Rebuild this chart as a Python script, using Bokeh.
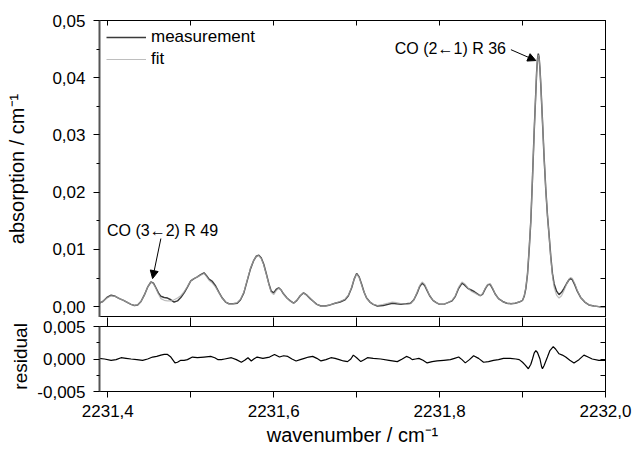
from bokeh.plotting import figure
from bokeh.layouts import column
from bokeh.models import (Range1d, FixedTicker, LinearAxis, CustomJSTickFormatter,
                          Label, Arrow, NormalHead)
from bokeh.embed import file_html
from bokeh.resources import INLINE

# ---------------- data ----------------
wavenumber = [
    2231.388, 2231.394, 2231.399, 2231.404, 2231.409, 2231.414, 2231.419, 2231.424, 2231.428, 2231.432,
    2231.436, 2231.440, 2231.444, 2231.448, 2231.452, 2231.455, 2231.458, 2231.461, 2231.464, 2231.468,
    2231.472, 2231.476, 2231.480, 2231.484, 2231.488, 2231.492, 2231.496, 2231.500, 2231.504, 2231.508,
    2231.512, 2231.516, 2231.519, 2231.522, 2231.526, 2231.530, 2231.534, 2231.538, 2231.542, 2231.546,
    2231.551, 2231.556, 2231.560, 2231.564, 2231.568, 2231.572, 2231.576, 2231.579, 2231.582, 2231.585,
    2231.588, 2231.591, 2231.594, 2231.597, 2231.600, 2231.603, 2231.606, 2231.609, 2231.612, 2231.616,
    2231.620, 2231.624, 2231.628, 2231.632, 2231.636, 2231.640, 2231.644, 2231.648, 2231.652, 2231.657,
    2231.662, 2231.668, 2231.674, 2231.680, 2231.686, 2231.690, 2231.694, 2231.697, 2231.700, 2231.703,
    2231.706, 2231.709, 2231.712, 2231.716, 2231.720, 2231.725, 2231.732, 2231.738, 2231.743, 2231.748,
    2231.754, 2231.760, 2231.765, 2231.769, 2231.773, 2231.776, 2231.779, 2231.782, 2231.785, 2231.788,
    2231.792, 2231.796, 2231.800, 2231.805, 2231.810, 2231.815, 2231.819, 2231.823, 2231.827, 2231.830,
    2231.834, 2231.838, 2231.842, 2231.846, 2231.849, 2231.852, 2231.855, 2231.858, 2231.861, 2231.864,
    2231.867, 2231.871, 2231.876, 2231.881, 2231.886, 2231.891, 2231.896, 2231.900, 2231.902, 2231.904,
    2231.906, 2231.908, 2231.910, 2231.912, 2231.914, 2231.916, 2231.917, 2231.918, 2231.919, 2231.920,
    2231.921, 2231.922, 2231.924, 2231.926, 2231.928, 2231.930, 2231.932, 2231.934, 2231.936, 2231.938,
    2231.941, 2231.944, 2231.947, 2231.950, 2231.953, 2231.956, 2231.958, 2231.960, 2231.963, 2231.966,
    2231.970, 2231.975, 2231.980, 2231.986, 2231.992, 2232.000]

measurement = [
    0.0005, 0.0009, 0.0016, 0.0020, 0.0018, 0.0014, 0.0011, 0.0007, 0.0004, 0.0002,
    0.0003, 0.0009, 0.0020, 0.0034, 0.0043, 0.0041, 0.0033, 0.0024, 0.0018, 0.0016,
    0.0015, 0.0012, 0.0008, 0.0010, 0.0016, 0.0024, 0.0034, 0.0045, 0.0049, 0.0052,
    0.0056, 0.0059, 0.0054, 0.0048, 0.0044, 0.0036, 0.0025, 0.0015, 0.0008, 0.0005,
    0.0005, 0.0006, 0.0012, 0.0024, 0.0045, 0.0066, 0.0081, 0.0088, 0.0090, 0.0085,
    0.0074, 0.0058, 0.0041, 0.0027, 0.0024, 0.0030, 0.0033, 0.0029, 0.0022, 0.0015,
    0.0010, 0.0006, 0.0011, 0.0019, 0.0024, 0.0020, 0.0014, 0.0009, 0.0004, 0.0001,
    0.0001, 0.0003, 0.0006, 0.0008, 0.0012, 0.0019, 0.0033, 0.0048, 0.0058, 0.0052,
    0.0039, 0.0025, 0.0015, 0.0008, 0.0004, 0.0001, 0.0002, 0.0004, 0.0006, 0.0005,
    0.0004, 0.0005, 0.0006, 0.0012, 0.0024, 0.0035, 0.0041, 0.0037, 0.0028, 0.0019,
    0.0011, 0.0007, 0.0004, 0.0004, 0.0007, 0.0010, 0.0018, 0.0032, 0.0041, 0.0038,
    0.0032, 0.0029, 0.0026, 0.0022, 0.0019, 0.0022, 0.0031, 0.0038, 0.0039, 0.0031,
    0.0022, 0.0014, 0.0009, 0.0006, 0.0005, 0.0006, 0.0008, 0.0011, 0.0018, 0.0032,
    0.0057, 0.0100, 0.0150, 0.0225, 0.0305, 0.0375, 0.0410, 0.0432, 0.0442, 0.0435,
    0.0415, 0.0388, 0.0325, 0.0260, 0.0205, 0.0160, 0.0125, 0.0088, 0.0058, 0.0040,
    0.0027, 0.0021, 0.0025, 0.0032, 0.0040, 0.0047, 0.0049, 0.0047, 0.0038, 0.0027,
    0.0016, 0.0008, 0.0003, 0.0001, 0.0000, 0.0000]

fit = [
    0.0005, 0.0009, 0.0015, 0.0019, 0.0018, 0.0014, 0.0011, 0.0007, 0.0004, 0.0002,
    0.0003, 0.0009, 0.0020, 0.0034, 0.0043, 0.0040, 0.0032, 0.0022, 0.0014, 0.0011,
    0.0010, 0.0010, 0.0012, 0.0015, 0.0019, 0.0026, 0.0035, 0.0045, 0.0049, 0.0052,
    0.0055, 0.0058, 0.0053, 0.0046, 0.0041, 0.0034, 0.0024, 0.0015, 0.0008, 0.0005,
    0.0005, 0.0007, 0.0013, 0.0025, 0.0046, 0.0067, 0.0081, 0.0088, 0.0089, 0.0084,
    0.0073, 0.0057, 0.0040, 0.0025, 0.0021, 0.0028, 0.0032, 0.0029, 0.0022, 0.0015,
    0.0010, 0.0006, 0.0011, 0.0019, 0.0024, 0.0020, 0.0014, 0.0009, 0.0004, 0.0001,
    0.0001, 0.0003, 0.0006, 0.0009, 0.0013, 0.0020, 0.0034, 0.0048, 0.0057, 0.0051,
    0.0038, 0.0025, 0.0015, 0.0008, 0.0004, 0.0002, 0.0004, 0.0006, 0.0008, 0.0007,
    0.0005, 0.0004, 0.0005, 0.0012, 0.0025, 0.0037, 0.0043, 0.0039, 0.0029, 0.0019,
    0.0011, 0.0007, 0.0004, 0.0004, 0.0007, 0.0011, 0.0019, 0.0034, 0.0043, 0.0040,
    0.0033, 0.0027, 0.0024, 0.0021, 0.0019, 0.0023, 0.0032, 0.0039, 0.0040, 0.0032,
    0.0022, 0.0014, 0.0009, 0.0006, 0.0005, 0.0006, 0.0008, 0.0011, 0.0019, 0.0033,
    0.0058, 0.0101, 0.0151, 0.0225, 0.0305, 0.0375, 0.0410, 0.0430, 0.0440, 0.0434,
    0.0415, 0.0388, 0.0325, 0.0260, 0.0205, 0.0160, 0.0124, 0.0086, 0.0055, 0.0034,
    0.0020, 0.0015, 0.0019, 0.0028, 0.0039, 0.0048, 0.0051, 0.0049, 0.0040, 0.0028,
    0.0016, 0.0008, 0.0003, 0.0001, 0.0000, 0.0000]

residual_x = [
    2231.388, 2231.396, 2231.404, 2231.410, 2231.416, 2231.422, 2231.428, 2231.435, 2231.442, 2231.448,
    2231.454, 2231.459, 2231.464, 2231.468, 2231.472, 2231.476, 2231.481, 2231.484, 2231.488, 2231.492,
    2231.496, 2231.502, 2231.508, 2231.516, 2231.524, 2231.529, 2231.533, 2231.537, 2231.541, 2231.549,
    2231.555, 2231.561, 2231.565, 2231.569, 2231.573, 2231.576, 2231.580, 2231.587, 2231.595, 2231.601,
    2231.607, 2231.612, 2231.617, 2231.622, 2231.627, 2231.632, 2231.637, 2231.642, 2231.647, 2231.652,
    2231.657, 2231.663, 2231.669, 2231.674, 2231.679, 2231.684, 2231.689, 2231.693, 2231.696, 2231.700,
    2231.705, 2231.709, 2231.713, 2231.720, 2231.729, 2231.739, 2231.749, 2231.755, 2231.760, 2231.764,
    2231.767, 2231.771, 2231.775, 2231.780, 2231.785, 2231.791, 2231.797, 2231.805, 2231.813, 2231.818,
    2231.823, 2231.827, 2231.831, 2231.836, 2231.841, 2231.847, 2231.853, 2231.859, 2231.865, 2231.871,
    2231.877, 2231.885, 2231.892, 2231.896, 2231.900, 2231.903, 2231.907, 2231.910, 2231.912, 2231.914,
    2231.916, 2231.918, 2231.921, 2231.923, 2231.924, 2231.926, 2231.930, 2231.933, 2231.937, 2231.940,
    2231.944, 2231.948, 2231.952, 2231.957, 2231.962, 2231.968, 2231.974, 2231.979, 2231.984, 2231.992,
    2232.000]

residual = [
    0.0001, 0.0000, -0.0002, -0.0001, 0.0002, 0.0001, 0.0000, -0.0001, -0.0002, 0.0000,
    0.0003, 0.0004, 0.0006, 0.0007, 0.0007, 0.0003, -0.0006, -0.0005, -0.0002, -0.0002,
    -0.0001, 0.0003, 0.0002, 0.0003, 0.0004, 0.0002, -0.0001, -0.0001, 0.0000, 0.0002,
    -0.0001, -0.0005, -0.0002, 0.0002, -0.0003, 0.0000, 0.0003, 0.0001, 0.0003, 0.0007,
    0.0003, 0.0005, 0.0004, 0.0000, -0.0003, -0.0001, 0.0001, 0.0003, 0.0004, 0.0001,
    -0.0003, -0.0001, 0.0002, 0.0001, -0.0001, -0.0003, -0.0004, 0.0000, 0.0006, 0.0002,
    -0.0004, -0.0001, 0.0002, 0.0001, 0.0000, -0.0002, -0.0004, 0.0000, 0.0004, 0.0002,
    -0.0001, 0.0000, 0.0001, -0.0002, -0.0006, -0.0004, -0.0003, -0.0002, -0.0001, 0.0001,
    0.0003, -0.0001, -0.0006, -0.0001, 0.0005, 0.0001, -0.0005, -0.0004, -0.0002, -0.0001,
    0.0001, 0.0001, 0.0000, -0.0001, -0.0005, -0.0009, -0.0015, -0.0008, 0.0000, 0.0009,
    0.0013, 0.0010, 0.0000, -0.0012, -0.0015, -0.0010, 0.0003, 0.0013, 0.0019, 0.0015,
    0.0008, 0.0006, 0.0003, -0.0002, -0.0006, -0.0001, 0.0006, 0.0003, 0.0000, -0.0002,
    -0.0002]

x_major_ticks = [2231.4, 2231.6, 2231.8, 2232.0]
x_minor_ticks = [2231.5, 2231.7, 2231.9]
y_major_ticks = [0.00, 0.01, 0.02, 0.03, 0.04, 0.05]
y_minor_ticks = [0.005, 0.015, 0.025, 0.035, 0.045]
res_major_ticks = [-0.005, 0.0, 0.005]
res_minor_ticks = [-0.0025, 0.0025]

# ---------------- styling helpers ----------------
FONT = "Liberation Sans"
TICK_FS = "17px"
blank = CustomJSTickFormatter(code="return '';")


def hidden_axis(ticker, tin, tout):
    return LinearAxis(ticker=ticker, formatter=blank, major_label_text_font_size="0px",
                      major_label_standoff=0, major_tick_in=tin, major_tick_out=tout,
                      minor_tick_in=tin, minor_tick_out=tout, axis_line_color="black",
                      major_tick_line_color="black", minor_tick_line_color="black")


def style_left(ax):
    ax.axis_line_color = "#555555"
    ax.axis_line_width = 2
    ax.major_tick_in = 0
    ax.major_tick_out = 6
    ax.minor_tick_in = 0
    ax.minor_tick_out = 3
    ax.major_tick_line_color = "black"
    ax.minor_tick_line_color = "black"
    ax.major_label_text_font = FONT
    ax.major_label_text_font_size = TICK_FS
    ax.major_label_text_color = "black"
    ax.major_label_standoff = 8
    ax.axis_label_text_font = FONT
    ax.axis_label_text_font_size = "20px"
    ax.axis_label_text_font_style = "normal"
    ax.axis_label_text_color = "black"


# ---------------- top panel ----------------
top = figure(width=632, height=317, x_range=Range1d(2231.39, 2232.0),
             y_range=Range1d(-0.0019, 0.05), output_backend="svg", toolbar_location=None,
             x_axis_location="above", min_border_left=99, min_border_right=27,
             min_border_top=20, min_border_bottom=0)
top.grid.visible = False
top.outline_line_color = "black"

top.xaxis.ticker = FixedTicker(ticks=x_major_ticks + x_minor_ticks)
top.xaxis.formatter = blank
top.xaxis.major_label_text_font_size = "0px"
top.xaxis.major_label_standoff = 0
top.xaxis.major_tick_in = 5
top.xaxis.major_tick_out = 0
top.xaxis.axis_line_color = "black"
top.xaxis.major_tick_line_color = "black"

top.yaxis.ticker = FixedTicker(ticks=y_major_ticks, minor_ticks=y_minor_ticks)
top.yaxis.formatter = CustomJSTickFormatter(code="return tick.toFixed(2).replace('.', ',');")
style_left(top.yaxis[0])
top.yaxis.axis_label = "absorption / cm⁻¹"
top.yaxis.axis_label_standoff = 21

top.add_layout(hidden_axis(FixedTicker(ticks=y_major_ticks + y_minor_ticks), 5, 0), "right")

top.line(wavenumber, measurement, line_color="#3a3a3a", line_width=1.5, legend_label="measurement")
top.line(wavenumber, fit, line_color="#a8a8a8", line_width=1.2, line_alpha=0.75, legend_label="fit")

lg = top.legend[0]
lg.location = "top_left"
lg.margin = 2
lg.padding = 5
lg.spacing = 2
lg.label_height = 20
lg.glyph_height = 20
lg.glyph_width = 40
lg.label_standoff = 5
lg.label_text_font = FONT
lg.label_text_font_size = "17px"
lg.label_text_color = "black"
lg.border_line_alpha = 0
lg.background_fill_alpha = 0

ann_font = "16px"
top.add_layout(Label(x=2231.880, y=0.0451, text="CO (2←1) R 36", text_align="right",
                     text_baseline="middle", text_font=FONT, text_font_size=ann_font,
                     text_color="black"))
top.add_layout(Arrow(x_start=2231.886, y_start=0.0449, x_end=2231.916, y_end=0.0430,
                     line_color="black", line_width=1,
                     end=NormalHead(size=8, fill_color="black", line_color="black")))
top.add_layout(Label(x=2231.399, y=0.0133, text="CO (3←2) R 49", text_align="left",
                     text_baseline="middle", text_font=FONT, text_font_size=ann_font,
                     text_color="black"))
top.add_layout(Arrow(x_start=2231.464, y_start=0.0119, x_end=2231.454, y_end=0.0049,
                     line_color="black", line_width=1,
                     end=NormalHead(size=8, fill_color="black", line_color="black")))

# ---------------- residual panel ----------------
bot = figure(width=632, height=135, x_range=top.x_range, y_range=Range1d(-0.005, 0.005),
             output_backend="svg", toolbar_location=None, min_border_left=99,
             min_border_right=27, min_border_top=9, min_border_bottom=61)
bot.grid.visible = False
bot.outline_line_color = "black"

bx = bot.xaxis[0]
bx.ticker = FixedTicker(ticks=x_major_ticks, minor_ticks=x_minor_ticks)
bx.formatter = CustomJSTickFormatter(code="return tick.toFixed(1).replace('.', ',');")
bx.major_tick_in = 0
bx.major_tick_out = 6
bx.minor_tick_in = 0
bx.minor_tick_out = 6
bx.axis_line_color = "black"
bx.major_tick_line_color = "black"
bx.minor_tick_line_color = "black"
bx.major_label_text_font = FONT
bx.major_label_text_font_size = TICK_FS
bx.major_label_text_color = "black"
bx.major_label_standoff = 7
bx.axis_label = "wavenumber / cm⁻¹"
bx.axis_label_text_font = FONT
bx.axis_label_text_font_size = "20px"
bx.axis_label_text_font_style = "normal"
bx.axis_label_text_color = "black"
bx.axis_label_standoff = 4

by = bot.yaxis[0]
by.ticker = FixedTicker(ticks=res_major_ticks, minor_ticks=res_minor_ticks)
by.formatter = CustomJSTickFormatter(code="return tick.toFixed(3).replace('.', ',');")
style_left(by)
# one leading no-break space lifts the label slightly above the panel centre (as in the reference)
by.axis_label = "\u00a0" + "residual"
by.axis_label_text_font_size = "19px"
by.axis_label_standoff = 3

bot.add_layout(hidden_axis(FixedTicker(ticks=x_major_ticks + x_minor_ticks), 0, 9), "above")
bot.add_layout(hidden_axis(FixedTicker(ticks=res_major_ticks + res_minor_ticks), 5, 0), "right")

bot.line(residual_x, residual, line_color="black", line_width=1.2)

layout = column(top, bot, spacing=0)
open("out.html", "w").write(file_html(layout, INLINE))
